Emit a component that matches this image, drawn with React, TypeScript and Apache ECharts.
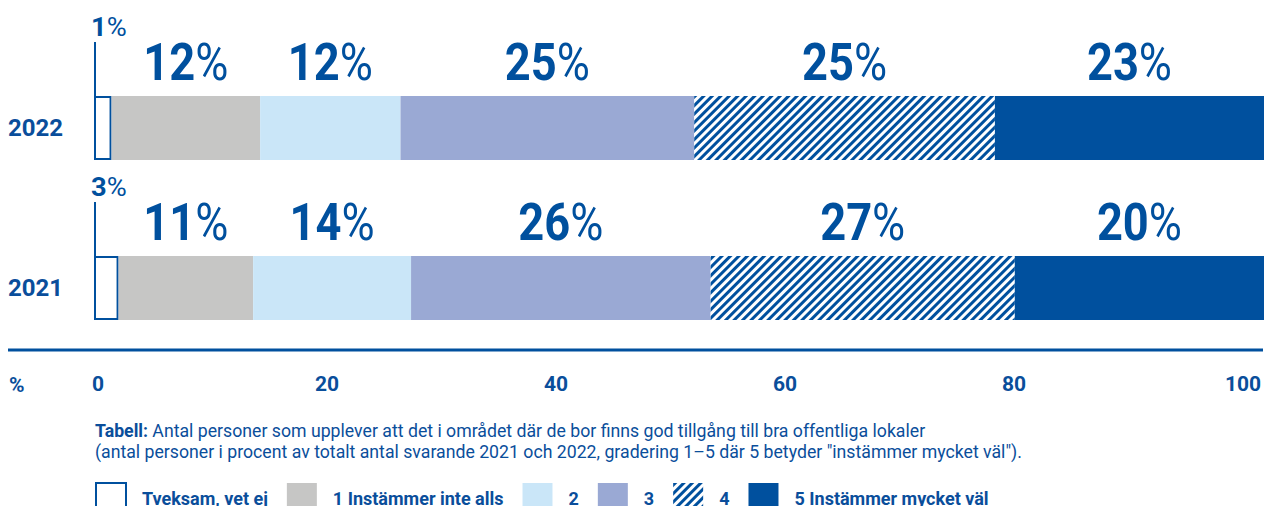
import React, { useEffect, useRef } from 'react';
import * as echarts from 'echarts';

// ---- data ----
const categories = ['2022', '2021'];
const seriesNames = ['Tveksam, vet ej', '1 Instämmer inte alls', '2', '3', '4', '5 Instämmer mycket väl'];
// bar lengths as drawn in the picture (share of the full bar width, %)
const tveksam = [1.5, 2.1];
const grade1 = [12.7, 11.5];
const grade2 = [12.0, 13.5];
const grade3 = [25.1, 25.6];
const grade4 = [25.7, 26.0];
const grade5 = [23.0, 21.3];
// printed percentages
const tveksamLabels = [1, 3];
const grade1Labels = [12, 11];
const grade2Labels = [12, 14];
const grade3Labels = [25, 26];
const grade4Labels = [25, 27];
const grade5Labels = [23, 20];
const axisTicks = [0, 20, 40, 60, 80, 100];

const captionBold = 'Tabell:';
const captionLine1 = ' Antal personer som upplever att det i området där de bor finns god tillgång till bra offentliga lokaler';
const captionLine2 = '(antal personer i procent av totalt antal svarande 2021 och 2022, gradering 1–5 där 5 betyder "instämmer mycket väl").';

// ---- styles ----
const DARK = '#00509e';
const GRAY = '#c6c6c5';
const LIGHT = '#cae6f8';
const LAV = '#9aa9d4';
const TEXT = '#0a4e9b';
const FONT = 'Roboto, sans-serif';

export default function App() {
  const ref = useRef<HTMLDivElement>(null);

  useEffect(() => {
    document.body.style.margin = '0';
    if (!ref.current) return;
    const chart = echarts.init(ref.current, null, { renderer: 'svg' });

    const values = [tveksam, grade1, grade2, grade3, grade4, grade5];
    const labelSets = [tveksamLabels, grade1Labels, grade2Labels, grade3Labels, grade4Labels, grade5Labels];
    const colors = ['#ffffff', GRAY, LIGHT, LAV, '#ffffff', DARK];

    const series: any[] = values.map((v, i) => {
      const s: any = {
        name: seriesNames[i],
        type: 'bar',
        stack: 'total',
        barWidth: 64,
        xAxisIndex: 0,
        yAxisIndex: 0,
        data: v,
        itemStyle: { color: colors[i] },
      };
      if (i === 0) {
        s.itemStyle = { color: '#ffffff', borderColor: DARK, borderWidth: 2 };
      }
      if (i === 4) {
        s.itemStyle = {
          color: '#ffffff',
          decal: {
            symbol: 'rect',
            symbolSize: 1,
            dashArrayX: [1, 0],
            dashArrayY: [3, 3],
            rotation: -Math.PI / 4,
            color: DARK,
          },
        };
      }
      return s;
    });

    const option: any = {
      animation: false,
      grid: [
        { left: 94, right: 2, top: 48, height: 320 },
        { left: 98, right: 23, top: 374, height: 10 },
      ],
      xAxis: [
        { type: 'value', gridIndex: 0, min: 0, max: 100, show: false },
        {
          type: 'value',
          gridIndex: 1,
          min: axisTicks[0],
          max: axisTicks[axisTicks.length - 1],
          interval: axisTicks[1] - axisTicks[0],
          axisLine: { show: false },
          axisTick: { show: false },
          splitLine: { show: false },
          axisLabel: {
            margin: 0,
            verticalAlign: 'middle',
            fontFamily: FONT,
            fontWeight: 'bold',
            fontSize: 21,
            color: TEXT,
          },
        },
      ],
      yAxis: [
        {
          type: 'category',
          gridIndex: 0,
          data: categories,
          inverse: true,
          axisLine: { show: false },
          axisTick: { show: false },
          axisLabel: {
            margin: 31,
            fontFamily: FONT,
            fontWeight: 'bold',
            fontSize: 24,
            color: TEXT,
          },
        },
        { type: 'value', gridIndex: 1, show: false },
      ],
      legend: {
        left: 95,
        top: 482,
        padding: 0,
        icon: 'rect',
        itemWidth: 30,
        itemHeight: 30,
        itemGap: 19,
        selectedMode: false,
        data: seriesNames,
        textStyle: {
          fontFamily: FONT,
          fontWeight: 'bold',
          fontSize: 18,
          color: TEXT,
          padding: [2, 0, 0, 11],
        },
      },
      series,
    };
    chart.setOption(option);

    const graphics: any[] = [
      { type: 'line', shape: { x1: 8, y1: 350, x2: 1263, y2: 350 }, style: { stroke: DARK, lineWidth: 3 } },
      {
        type: 'text',
        left: 9,
        top: 374,
        style: { text: '%', fontFamily: FONT, fontWeight: 'bold', fontSize: 21, fill: TEXT },
      },
      {
        type: 'text',
        left: 95,
        top: 420,
        style: {
          text: `{b|${captionBold}}${captionLine1}\n${captionLine2}`,
          fontFamily: FONT,
          fontSize: 17.7,
          lineHeight: 21,
          fill: TEXT,
          rich: { b: { fontFamily: FONT, fontSize: 17.7, fontWeight: 'bold', fill: TEXT, lineHeight: 21 } },
        },
      },
    ];

    categories.forEach((c, j) => {
      const p = chart.convertToPixel({ gridIndex: 0 } as any, [0, c]) as number[];
      const barTop = p[1] - 32;
      // leader line and small label of the "Tveksam" box
      graphics.push({
        type: 'line',
        shape: { x1: p[0] + 1, y1: barTop - 54, x2: p[0] + 1, y2: barTop },
        style: { stroke: DARK, lineWidth: 2 },
      });
      graphics.push({
        type: 'text',
        x: p[0] - 3,
        y: barTop - 56,
        scaleX: 1.05,
        style: {
          text: `{n|${tveksamLabels[j]}}{p|%}`,
          verticalAlign: 'bottom',
          rich: {
            n: { fontFamily: FONT, fontSize: 26, fontWeight: 'bold', fill: DARK },
            p: { fontFamily: FONT, fontSize: 26, fontWeight: 'normal', fill: DARK },
          },
        },
      });
      // big labels centred above each segment
      let start = values[0][j];
      for (let i = 1; i < values.length; i++) {
        const mid = start + values[i][j] / 2;
        start += values[i][j];
        const q = chart.convertToPixel({ gridIndex: 0 } as any, [mid, c]) as number[];
        graphics.push({
          type: 'text',
          x: q[0],
          y: barTop - 8,
          scaleX: 0.87,
          style: {
            text: `{n|${labelSets[i][j]}}{p|%}`,
            align: 'center',
            verticalAlign: 'bottom',
            rich: {
              n: { fontFamily: FONT, fontSize: 52, fontWeight: 'bold', fill: DARK },
              p: { fontFamily: FONT, fontSize: 52, fontWeight: 'normal', fill: DARK },
            },
          },
        });
      }
    });

    chart.setOption({ graphic: graphics });

    return () => chart.dispose();
  }, []);

  return <div ref={ref} style={{ width: 1266, height: 506 }} />;
}
